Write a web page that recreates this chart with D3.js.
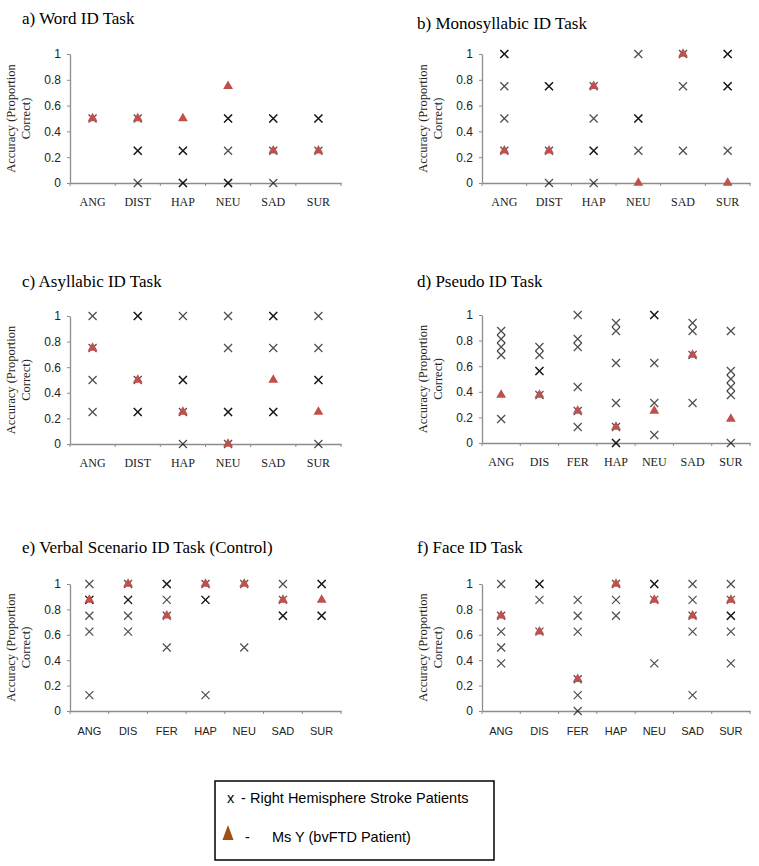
<!DOCTYPE html>
<html>
<head>
<meta charset="utf-8">
<script src="https://cdn.jsdelivr.net/npm/d3@7"></script>
<style>
  body { margin: 0; background: #fff; }
  svg { display: block; }
</style>
</head>
<body>
<div id="chart"></div>
<script>
// Categories
var cats6 = ["ANG", "DIST", "HAP", "NEU", "SAD", "SUR"];
var cats7 = ["ANG", "DIS", "FER", "HAP", "NEU", "SAD", "SUR"];
var yTicks = [0, 0.2, 0.4, 0.6, 0.8, 1];

// Right hemisphere stroke patients (repeated values = overlapping patients)
var wordStroke = [[0.5], [0.5, 0.25, 0.25, 0], [0.25, 0.25, 0, 0], [0.5, 0.5, 0.25, 0, 0], [0.5, 0.5, 0.25, 0], [0.5, 0.5, 0.25]];
var monoStroke = [[1, 1, 0.75, 0.5, 0.25], [0.75, 0.75, 0.25, 0], [0.75, 0.5, 0.25, 0.25, 0], [1, 0.5, 0.5, 0.25], [1, 0.75, 0.25], [1, 1, 0.75, 0.75, 0.25]];
var asylStroke = [[1, 0.75, 0.5, 0.25], [1, 1, 0.5, 0.25, 0.25], [1, 0.5, 0.5, 0.25, 0], [1, 0.75, 0.25, 0.25, 0], [1, 1, 0.75, 0.25, 0.25], [1, 0.75, 0.5, 0.5, 0]];
var pseudoStroke = [
  [0.875, 0.8125, 0.75, 0.6875, 0.1875],
  [0.75, 0.6875, 0.5625, 0.5625, 0.375],
  [1, 0.8125, 0.75, 0.4375, 0.25, 0.125],
  [0.9375, 0.875, 0.625, 0.3125, 0.125, 0, 0],
  [1, 1, 0.625, 0.3125, 0.0625],
  [0.9375, 0.875, 0.6875, 0.3125],
  [0.875, 0.5625, 0.5, 0.4375, 0.375, 0]
];
var verbalStroke = [
  [1, 0.875, 0.875, 0.75, 0.625, 0.125],
  [1, 0.875, 0.875, 0.75, 0.625],
  [1, 1, 0.875, 0.75, 0.5],
  [1, 0.875, 0.875, 0.125],
  [1, 0.5],
  [1, 0.875, 0.75, 0.75],
  [1, 1, 0.75, 0.75]
];
var faceStroke = [
  [1, 0.75, 0.625, 0.5, 0.375],
  [1, 1, 0.875, 0.625],
  [0.875, 0.75, 0.625, 0.25, 0.125, 0],
  [1, 0.875, 0.75],
  [1, 1, 0.875, 0.375],
  [1, 0.875, 0.75, 0.625, 0.125],
  [1, 0.875, 0.75, 0.75, 0.625, 0.375]
];

// Ms Y (bvFTD patient)
var wordMsY = [0.5, 0.5, 0.5, 0.75, 0.25, 0.25];
var monoMsY = [0.25, 0.25, 0.75, 0, 1, 0];
var asylMsY = [0.75, 0.5, 0.25, 0, 0.5, 0.25];
var pseudoMsY = [0.375, 0.375, 0.25, 0.125, 0.25, 0.6875, 0.1875];
var verbalMsY = [0.875, 1, 0.75, 1, 1, 0.875, 0.875];
var faceMsY = [0.75, 0.625, 0.25, 1, 0.875, 0.75, 0.875];

var titles = ["a) Word ID Task", "b) Monosyllabic ID Task", "c) Asyllabic ID Task",
  "d) Pseudo ID Task", "e) Verbal Scenario ID Task (Control)", "f) Face ID Task"];

var width = 759, height = 866;
var serif = "'Liberation Serif', 'Times New Roman', serif";
var sans = "'Liberation Sans', Arial, sans-serif";
var triColor = "#c0504d";
var axisColor = "#8c8c8c";

// layout of each panel
var panels = [
  {title: titles[0], tx: 22, ty: 24, cats: cats6, stroke: wordStroke, msy: wordMsY, x0: 70, x1: 341, yTop: 54, yBot: 183, serifX: true},
  {title: titles[1], tx: 417, ty: 29, cats: cats6, stroke: monoStroke, msy: monoMsY, x0: 482, x1: 750, yTop: 54, yBot: 183, serifX: true},
  {title: titles[2], tx: 22, ty: 287, cats: cats6, stroke: asylStroke, msy: asylMsY, x0: 70, x1: 341, yTop: 316, yBot: 444, serifX: true},
  {title: titles[3], tx: 417, ty: 287, cats: cats7, stroke: pseudoStroke, msy: pseudoMsY, x0: 482, x1: 750, yTop: 315, yBot: 443, serifX: true},
  {title: titles[4], tx: 22, ty: 553, cats: cats7, stroke: verbalStroke, msy: verbalMsY, x0: 70, x1: 341, yTop: 584, yBot: 711, serifX: false},
  {title: titles[5], tx: 417, ty: 553, cats: cats7, stroke: faceStroke, msy: faceMsY, x0: 482, x1: 750, yTop: 584, yBot: 711, serifX: false}
];

var svg = d3.select("#chart").append("svg")
  .attr("width", width)
  .attr("height", height);

var triangle = d3.symbol().type(d3.symbolTriangle).size(42);

panels.forEach(function(p) {
  var g = svg.append("g");

  g.append("text")
    .attr("x", p.tx).attr("y", p.ty)
    .attr("font-family", serif).attr("font-size", 17)
    .text(p.title);

  var x = d3.scaleBand().domain(p.cats).range([p.x0, p.x1]).padding(0);
  var y = d3.scaleLinear().domain([0, 1]).range([p.yBot, p.yTop]);

  // y axis
  var yAxis = g.append("g")
    .attr("transform", "translate(" + p.x0 + ",0)")
    .call(d3.axisLeft(y).tickValues(yTicks).tickSizeInner(3).tickSizeOuter(0).tickPadding(6).tickFormat(function(d) { return d; }));
  yAxis.select(".domain").attr("stroke", axisColor).attr("stroke-width", 1.3);
  yAxis.selectAll(".tick line").attr("stroke", axisColor);
  yAxis.selectAll("text").attr("font-family", sans).attr("font-size", 12).attr("fill", "#222");

  // x axis
  var xAxis = g.append("g")
    .attr("transform", "translate(0," + p.yBot + ")")
    .call(d3.axisBottom(x).tickSize(0).tickPadding(p.serifX ? 14 : 16));
  xAxis.select(".domain").attr("stroke", axisColor).attr("stroke-width", 1.3);
  xAxis.selectAll("text")
    .attr("font-family", p.serifX ? serif : sans)
    .attr("font-size", p.serifX ? 12 : 11)
    .attr("fill", "#222");

  // category boundary ticks
  var bounds = p.cats.map(function(c) { return x(c); }).concat([p.x1]);
  xAxis.selectAll(".bound")
    .data(bounds)
    .enter().append("line")
    .attr("x1", function(d) { return d; })
    .attr("x2", function(d) { return d; })
    .attr("y1", 0).attr("y2", 3)
    .attr("stroke", axisColor);

  // y axis title
  var cy = (p.yTop + p.yBot) / 2;
  var yt = g.append("text")
    .attr("transform", "translate(" + (p.x0 - 52) + "," + cy + ") rotate(-90)")
    .attr("text-anchor", "middle")
    .attr("font-family", serif).attr("font-size", 12.5)
    .attr("fill", "#222");
  yt.append("tspan").attr("x", 0).attr("dy", -3).text("Accuracy (Proportion");
  yt.append("tspan").attr("x", 0).attr("dy", 15).text("Correct)");

  // stroke patients: x markers
  var pts = [];
  p.stroke.forEach(function(vals, i) {
    vals.forEach(function(v) { pts.push({cat: p.cats[i], v: v}); });
  });
  var half = x.bandwidth() / 2;
  g.selectAll(".xm")
    .data(pts)
    .enter().append("path")
    .attr("transform", function(d) { return "translate(" + (x(d.cat) + half) + "," + y(d.v) + ")"; })
    .attr("d", "M-4,-4L4,4M-4,4L4,-4")
    .attr("stroke", "#000")
    .attr("stroke-opacity", 0.7)
    .attr("stroke-width", 1.2)
    .attr("fill", "none");

  // Ms Y: triangles
  g.selectAll(".tri")
    .data(p.msy)
    .enter().append("path")
    .attr("transform", function(d, i) { return "translate(" + (x(p.cats[i]) + half) + "," + y(d) + ")"; })
    .attr("d", triangle)
    .attr("fill", triColor);
});

// legend
var leg = svg.append("g");
leg.append("rect")
  .attr("x", 215).attr("y", 781)
  .attr("width", 279).attr("height", 79)
  .attr("fill", "none").attr("stroke", "#000").attr("stroke-width", 1.5);
leg.append("text").attr("x", 227).attr("y", 803)
  .attr("font-family", sans).attr("font-size", 14.5).text("x");
leg.append("text").attr("x", 241).attr("y", 803)
  .attr("font-family", sans).attr("font-size", 14.5).text("-");
leg.append("text").attr("x", 250).attr("y", 803)
  .attr("font-family", sans).attr("font-size", 14.5).text("Right Hemisphere Stroke Patients");
leg.append("path")
  .attr("d", "M228,825L233.5,840L222.5,840Z")
  .attr("fill", "#a24d14");
leg.append("text").attr("x", 245).attr("y", 842)
  .attr("font-family", sans).attr("font-size", 14.5).text("-");
leg.append("text").attr("x", 272).attr("y", 842)
  .attr("font-family", sans).attr("font-size", 14.5).text("Ms Y (bvFTD Patient)");
</script>
</body>
</html>
